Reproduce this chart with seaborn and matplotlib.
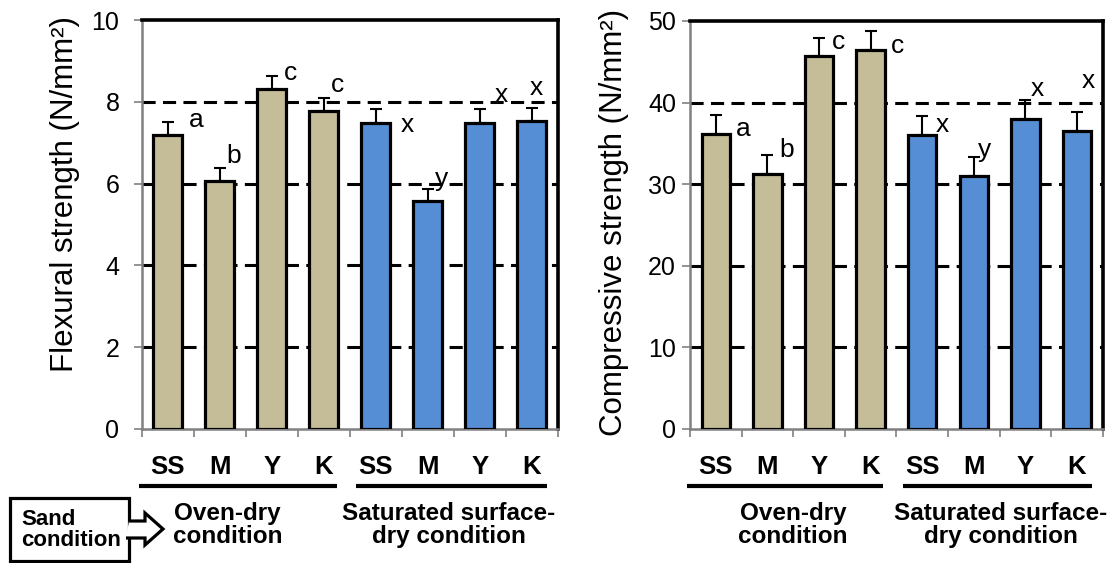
import numpy as np
import pandas as pd
import matplotlib
matplotlib.use("Agg")
import matplotlib.pyplot as plt
import matplotlib.patches as mpatches
import seaborn as sns

# data
sand = ["SS", "M", "Y", "K", "SS", "M", "Y", "K"]
condition = ["Oven-dry"] * 4 + ["SSD"] * 4
group_titles = ["Oven-dry\ncondition", "Saturated surface-\ndry condition"]

flexural_mean = [7.19, 6.06, 8.31, 7.77, 7.48, 5.57, 7.48, 7.53]
flexural_err = [0.32, 0.33, 0.32, 0.32, 0.34, 0.31, 0.34, 0.33]
flexural_letters = ["a", "b", "c", "c", "x", "y", "x", "x"]

compressive_mean = [36.1, 31.3, 45.7, 46.5, 36.0, 31.0, 38.0, 36.5]
compressive_err = [2.33, 2.28, 2.25, 2.33, 2.3, 2.38, 2.37, 2.3]
compressive_letters = ["a", "b", "c", "c", "x", "y", "x", "x"]

# letter offsets (pixels, relative to top of error bar)
flex_dx = [29, 14, 19, 14, 32, 14, 22, 5]
flex_dy = [2, 12, 3, 13, -16, 10, 14, 20]
comp_dx = [27, 19, 20, 27, 20, 11, 12, 11]
comp_dy = [-14, 5, -4, -15, -9, 7, 11, 31]

tan = "#C4BD97"
blue = "#558ED5"
W, H = 1109, 563

sns.set_style("white")
plt.rcParams["font.family"] = ["Liberation Sans", "DejaVu Sans"]
plt.rcParams["text.color"] = "black"
plt.rcParams["axes.labelcolor"] = "black"
plt.rcParams["xtick.labelcolor"] = "black"
plt.rcParams["ytick.labelcolor"] = "black"

fig = plt.figure(figsize=(W / 100, H / 100), dpi=100)
ax1 = fig.add_axes([141.7 / W, 1 - 429 / H, 416 / W, 409 / H])
ax2 = fig.add_axes([690 / W, 1 - 429 / H, 412.7 / W, 408 / H])

keys = [f"{s}_{c}" for s, c in zip(sand, condition)]


def draw_panel(ax, mean, err, letters, dx, dy, ymax, ystep, ylabel, label_y,
               pad, title_x):
    df = pd.DataFrame({"key": keys, "value": mean, "cond": condition})
    sns.barplot(data=df, x="key", y="value", hue="cond", order=keys,
                palette=[tan, blue], dodge=False, width=0.55, saturation=1,
                edgecolor="black", linewidth=2.3, legend=False, ax=ax, zorder=3)
    ax.errorbar(range(len(keys)), mean, yerr=[np.zeros(len(err)), err],
                fmt="none", ecolor="black", elinewidth=1.5, capsize=4.5,
                capthick=1.5, zorder=4)

    ticks = np.arange(0, ymax + ystep / 2, ystep)
    for t in ticks[1:-1]:
        ax.axhline(t, color="black", lw=2.2, ls=(0, (4.3, 2.4)), zorder=1)

    ax.set_ylim(0, ymax)
    ax.set_xlim(-0.5, len(keys) - 0.5)
    ax.set_yticks(ticks)
    ax.set_yticklabels([f"{t:g}" for t in ticks])
    ax.set_xticks(np.arange(-0.5, len(keys), 1))
    ax.set_xticklabels([])
    ax.set_xlabel("")
    ax.tick_params(axis="y", direction="out", length=6, width=1.2,
                   color="#808080", labelcolor="black", labelsize=18,
                   pad=pad, left=True)
    ax.tick_params(axis="x", direction="out", length=6, width=1.2,
                   color="#808080", bottom=True)
    for side in ["left", "bottom"]:
        ax.spines[side].set_color("#808080")
        ax.spines[side].set_linewidth(1.8)
    for side in ["top", "right"]:
        ax.spines[side].set_color("black")
        ax.spines[side].set_linewidth(2.6)

    ax.set_ylabel(ylabel, fontsize=22.5, color="black")
    ax.yaxis.set_label_coords(-0.148, label_y)

    for i, (m, e, t) in enumerate(zip(mean, err, letters)):
        ax.annotate(t, (i, m + e), xytext=(dx[i], dy[i]),
                    textcoords="offset pixels", ha="center", va="center",
                    fontsize=19, color="black", zorder=5)

    tr = ax.get_xaxis_transform()
    for i, s in enumerate(sand):
        ax.text(i, -0.093, s, transform=tr, ha="center", va="center",
                fontsize=18.5, fontweight="bold", color="black")
    for (x0, x1), tx, title in zip([(-0.55, 3.25), (3.62, 7.3)], title_x,
                                   group_titles):
        ax.plot([x0, x1], [-0.14, -0.14], transform=tr, color="black",
                lw=3, clip_on=False, solid_capstyle="butt")
        ax.text(tx, -0.235, title, transform=tr, ha="center", va="center",
                fontsize=17.5, fontweight="bold", linespacing=1.0,
                color="black")


draw_panel(ax1, flexural_mean, flexural_err, flexural_letters, flex_dx, flex_dy,
           10, 2, "Flexural strength (N/mm²)", 0.575, 10, [1.15, 5.4])
draw_panel(ax2, compressive_mean, compressive_err, compressive_letters, comp_dx,
           comp_dy, 50, 10, "Compressive strength (N/mm²)", 0.507, 4,
           [1.5, 5.52])

# "Sand condition" box with outlined arrow
box = mpatches.Rectangle((10 / W, 1 - 561 / H), 119 / W, 63 / H,
                         transform=fig.transFigure, fill=False,
                         ec="black", lw=2.3)
fig.patches.append(box)
fig.text(21 / W, 1 - 530 / H, "Sand\ncondition", ha="left", va="center",
         fontsize=16, fontweight="bold", linespacing=1.0, color="black")
arrow_px = [(129, 521), (145, 521), (145, 513), (163, 529), (145, 545),
            (145, 538), (126, 538)]
arrow = mpatches.Polygon([(x / W, 1 - y / H) for x, y in arrow_px],
                         closed=False, transform=fig.transFigure,
                         fc="white", ec="black", lw=2.3, zorder=5,
                         joinstyle="miter")
fig.patches.append(arrow)

fig.savefig("out.png", dpi=100)
